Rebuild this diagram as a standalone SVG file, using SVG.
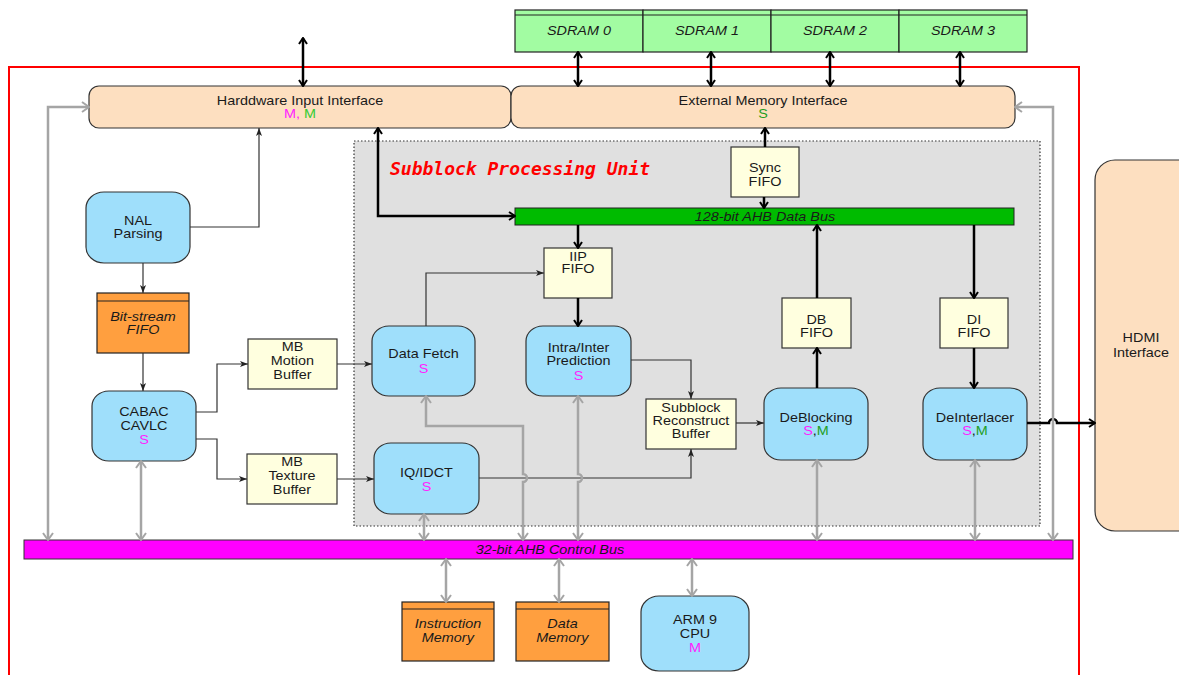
<svg xmlns="http://www.w3.org/2000/svg" width="1179" height="675" viewBox="0 0 1179 675">
  <style>
    .t { font-family: "Liberation Sans", Arial, sans-serif; font-size: 12px; fill: #1a1a1a; text-anchor: middle; transform-box: fill-box; transform-origin: center; transform: scaleX(1.2); }
    .it { font-style: italic; }
    .mg { fill: #ff22ff; }
    .gn { fill: #1e9e1e; }
    .gl { fill: #33cc33; }
    .title { font-family: "DejaVu Sans Mono", "Liberation Mono", monospace; font-size: 18px; font-weight: bold; font-style: italic; fill: #ff0000; }
    .blue { fill: #9fdffb; stroke: #333; stroke-width: 1.2; }
    .peach { fill: #fddfc0; stroke: #333; stroke-width: 1.2; }
    .yel { fill: #ffffdf; stroke: #333; stroke-width: 1.2; }
    .org { fill: #ff9f3f; stroke: #222; stroke-width: 1.2; }
    .sd { fill: #a2fca2; stroke: #222; stroke-width: 1.2; }
    .hd { fill: none; stroke: #222; stroke-width: 1.2; }
    .bk { fill: none; stroke: #000; stroke-width: 2.5; }
    .th { fill: none; stroke: #333; stroke-width: 1.2; }
    .gr { fill: none; stroke: #a5a5a5; stroke-width: 2.5; }
  </style>
  <defs>
    <marker id="ab" viewBox="0 0 10 10" refX="9" refY="5" markerWidth="10" markerHeight="10" markerUnits="userSpaceOnUse" orient="auto-start-reverse">
      <path d="M3,1 L9,5 L3,9" fill="none" stroke="#000" stroke-width="2"/>
    </marker>
    <marker id="ag" viewBox="0 0 12 12" refX="11" refY="6" markerWidth="12" markerHeight="12" markerUnits="userSpaceOnUse" orient="auto-start-reverse">
      <path d="M4,1 L11,6 L4,11" fill="none" stroke="#a5a5a5" stroke-width="2"/>
    </marker>
    <marker id="at" viewBox="0 0 8 8" refX="8" refY="4" markerWidth="8" markerHeight="8" markerUnits="userSpaceOnUse" orient="auto">
      <path d="M0,1 L8,4 L0,7 L2,4 z" fill="#222"/>
    </marker>
  </defs>

  <!-- chip boundary -->
  <path d="M9 675 V67 H1079 V675" fill="none" stroke="#ff0000" stroke-width="2"/>

  <!-- subblock processing unit region -->
  <g id="spu">
    <rect x="354" y="141" width="686" height="385" fill="#e0e0e0" stroke="#333" stroke-width="1.2" stroke-dasharray="1.5 2"/>
    <text class="title" x="390" y="175">Subblock Processing Unit</text>
  </g>

  <!-- external SDRAM banks -->
  <g id="sdram0"><rect class="sd" x="515" y="10" width="128" height="42"/><line class="hd" x1="515" y1="15" x2="643" y2="15"/><text class="t it" x="579" y="35.5">SDRAM 0</text></g>
  <g id="sdram1"><rect class="sd" x="643" y="10" width="128" height="42"/><line class="hd" x1="643" y1="15" x2="771" y2="15"/><text class="t it" x="707" y="35.5">SDRAM 1</text></g>
  <g id="sdram2"><rect class="sd" x="771" y="10" width="128" height="42"/><line class="hd" x1="771" y1="15" x2="899" y2="15"/><text class="t it" x="835" y="35.5">SDRAM 2</text></g>
  <g id="sdram3"><rect class="sd" x="899" y="10" width="128" height="42"/><line class="hd" x1="899" y1="15" x2="1027" y2="15"/><text class="t it" x="963" y="35.5">SDRAM 3</text></g>

  <!-- interfaces -->
  <g id="hw-input">
    <rect class="peach" x="89" y="86" width="422" height="42" rx="10"/>
    <text class="t" x="300" y="105">Harddware Input Interface</text>
    <text class="t" x="300" y="118.5"><tspan class="mg">M,</tspan><tspan class="gl"> M</tspan></text>
  </g>
  <g id="ext-mem">
    <rect class="peach" x="511" y="86" width="504" height="42" rx="10"/>
    <text class="t" x="763" y="105">External Memory Interface</text>
    <text class="t gn" x="763" y="118.5">S</text>
  </g>
  <g id="hdmi">
    <rect class="peach" x="1095" y="160" width="110" height="371" rx="20"/>
    <text class="t" x="1141" y="342.5">HDMI</text>
    <text class="t" x="1141" y="357">Interface</text>
  </g>

  <!-- buses -->
  <g id="data-bus">
    <rect x="515" y="208" width="499" height="17" fill="#00bb00" stroke="#222" stroke-width="1"/>
    <text class="t it" x="765" y="221">128-bit AHB Data Bus</text>
  </g>
  <g id="control-bus">
    <rect x="24" y="540" width="1049" height="19" fill="#ff00ff" stroke="#333" stroke-width="1"/>
    <text class="t it" x="550" y="554">32-bit AHB Control Bus</text>
  </g>

  <!-- front end -->
  <g id="nal">
    <rect class="blue" x="86" y="192" width="104" height="71" rx="18" ry="16"/>
    <text class="t" x="138" y="225.5">NAL</text>
    <text class="t" x="138" y="238">Parsing</text>
  </g>
  <g id="bitstream-fifo">
    <rect class="org" x="97" y="293" width="92" height="60"/>
    <line class="hd" x1="97" y1="301" x2="189" y2="301"/>
    <text class="t it" x="143" y="321">Bit-stream</text>
    <text class="t it" x="143" y="334.5">FIFO</text>
  </g>
  <g id="cabac">
    <rect class="blue" x="92" y="391" width="104" height="70" rx="17" ry="15"/>
    <text class="t" x="144" y="416.5">CABAC</text>
    <text class="t" x="144" y="430.5">CAVLC</text>
    <text class="t mg" x="144" y="444.5">S</text>
  </g>
  <g id="mb-motion">
    <rect class="yel" x="248" y="339" width="89" height="50"/>
    <text class="t" x="292.5" y="351.5">MB</text>
    <text class="t" x="292.5" y="365.5">Motion</text>
    <text class="t" x="292.5" y="379">Buffer</text>
  </g>
  <g id="mb-texture">
    <rect class="yel" x="247" y="454" width="90" height="50"/>
    <text class="t" x="292" y="466.5">MB</text>
    <text class="t" x="292" y="480.5">Texture</text>
    <text class="t" x="292" y="494">Buffer</text>
  </g>

  <!-- subblock pipeline -->
  <g id="sync-fifo">
    <rect class="yel" x="731" y="147" width="68" height="50"/>
    <text class="t" x="765" y="172">Sync</text>
    <text class="t" x="765" y="186.5">FIFO</text>
  </g>
  <g id="iip-fifo">
    <rect class="yel" x="544" y="248" width="68" height="50"/>
    <text class="t" x="578" y="261">IIP</text>
    <text class="t" x="578" y="273.5">FIFO</text>
  </g>
  <g id="data-fetch">
    <rect class="blue" x="372" y="326" width="103" height="70" rx="17" ry="15"/>
    <text class="t" x="423.5" y="358.5">Data Fetch</text>
    <text class="t mg" x="423.5" y="373.5">S</text>
  </g>
  <g id="prediction">
    <rect class="blue" x="526" y="326" width="105" height="70" rx="17" ry="15"/>
    <text class="t" x="578.5" y="352">Intra/Inter</text>
    <text class="t" x="578.5" y="365.5">Prediction</text>
    <text class="t mg" x="578.5" y="380">S</text>
  </g>
  <g id="iq-idct">
    <rect class="blue" x="374" y="443" width="105" height="71" rx="17" ry="15"/>
    <text class="t" x="426.5" y="477.5">IQ/IDCT</text>
    <text class="t mg" x="426.5" y="491.5">S</text>
  </g>
  <g id="reconstruct">
    <rect class="yel" x="646" y="399" width="90" height="50"/>
    <text class="t" x="691" y="412">Subblock</text>
    <text class="t" x="691" y="425.5">Reconstruct</text>
    <text class="t" x="691" y="438.5">Buffer</text>
  </g>
  <g id="db-fifo">
    <rect class="yel" x="782" y="298" width="69" height="50"/>
    <text class="t" x="816.5" y="324.5">DB</text>
    <text class="t" x="816.5" y="337.5">FIFO</text>
  </g>
  <g id="di-fifo">
    <rect class="yel" x="940" y="298" width="68" height="50"/>
    <text class="t" x="974" y="324.5">DI</text>
    <text class="t" x="974" y="337.5">FIFO</text>
  </g>
  <g id="deblocking">
    <rect class="blue" x="764" y="388" width="104" height="72" rx="17" ry="15"/>
    <text class="t" x="816" y="422.5">DeBlocking</text>
    <text class="t" x="816" y="435.5"><tspan class="mg">S</tspan><tspan>,</tspan><tspan class="gn">M</tspan></text>
  </g>
  <g id="deinterlacer">
    <rect class="blue" x="923" y="388" width="104" height="72" rx="17" ry="15"/>
    <text class="t" x="975" y="422.5">DeInterlacer</text>
    <text class="t" x="975" y="435.5"><tspan class="mg">S</tspan><tspan>,</tspan><tspan class="gn">M</tspan></text>
  </g>

  <!-- system side -->
  <g id="instr-mem">
    <rect class="org" x="402" y="602" width="92" height="59"/>
    <line class="hd" x1="402" y1="609" x2="494" y2="609"/>
    <text class="t it" x="448" y="628.5">Instruction</text>
    <text class="t it" x="448" y="642.5">Memory</text>
  </g>
  <g id="data-mem">
    <rect class="org" x="516" y="602" width="93" height="59"/>
    <line class="hd" x1="516" y1="609" x2="609" y2="609"/>
    <text class="t it" x="562.5" y="628.5">Data</text>
    <text class="t it" x="562.5" y="642.5">Memory</text>
  </g>
  <g id="arm9">
    <rect class="blue" x="641" y="596" width="108" height="75" rx="18" ry="16"/>
    <text class="t" x="695" y="624.5">ARM 9</text>
    <text class="t" x="695" y="638.5">CPU</text>
    <text class="t mg" x="695" y="652.5">M</text>
  </g>

  <g id="connectors">
    <!-- data path (black) -->
    <path class="bk" d="M303 38 V86" marker-start="url(#ab)" marker-end="url(#ab)"/>
    <path class="bk" d="M578 52 V86" marker-start="url(#ab)" marker-end="url(#ab)"/>
    <path class="bk" d="M711 52 V86" marker-start="url(#ab)" marker-end="url(#ab)"/>
    <path class="bk" d="M830 52 V86" marker-start="url(#ab)" marker-end="url(#ab)"/>
    <path class="bk" d="M960 52 V86" marker-start="url(#ab)" marker-end="url(#ab)"/>
    <path class="bk" d="M378 128 V216 H515" marker-start="url(#ab)" marker-end="url(#ab)"/>
    <path class="bk" d="M765 147 V128" marker-end="url(#ab)"/>
    <path class="bk" d="M764 197 V208" marker-end="url(#ab)"/>
    <path class="bk" d="M578 225 V248" marker-end="url(#ab)"/>
    <path class="bk" d="M578 298 V326" marker-end="url(#ab)"/>
    <path class="bk" d="M817 388 V348" marker-end="url(#ab)"/>
    <path class="bk" d="M817 298 V225" marker-end="url(#ab)"/>
    <path class="bk" d="M974 225 V298" marker-end="url(#ab)"/>
    <path class="bk" d="M974 348 V388" marker-end="url(#ab)"/>
    <path class="bk" d="M1027 423 H1049 A4 4 0 0 1 1057 423 H1095" marker-end="url(#ab)"/>

    <!-- control flow (thin) -->
    <path class="th" d="M190 227 H259 V128" marker-end="url(#at)"/>
    <path class="th" d="M143 263 V293" marker-end="url(#at)"/>
    <path class="th" d="M143 353 V391" marker-end="url(#at)"/>
    <path class="th" d="M196 412 H217 V364 H248" marker-end="url(#at)"/>
    <path class="th" d="M196 439 H217 V479 H247" marker-end="url(#at)"/>
    <path class="th" d="M337 364 H372" marker-end="url(#at)"/>
    <path class="th" d="M337 479 H374" marker-end="url(#at)"/>
    <path class="th" d="M426 326 V273 H544" marker-end="url(#at)"/>
    <path class="th" d="M631 360 H691 V399" marker-end="url(#at)"/>
    <path class="th" d="M479 478 H691 V449" marker-end="url(#at)"/>
    <path class="th" d="M736 423 H764" marker-end="url(#at)"/>

    <!-- register access (grey) -->
    <path class="gr" d="M48 540 V107 H89" marker-start="url(#ag)" marker-end="url(#ag)"/>
    <path class="gr" d="M1053 540 V107 H1015" marker-start="url(#ag)" marker-end="url(#ag)"/>
    <path class="gr" d="M141 461 V540" marker-start="url(#ag)" marker-end="url(#ag)"/>
    <path class="gr" d="M424 514 V540" marker-start="url(#ag)" marker-end="url(#ag)"/>
    <path class="gr" d="M426 396 V426 H523 V474 A4 4 0 0 1 523 482 V540" marker-start="url(#ag)" marker-end="url(#ag)"/>
    <path class="gr" d="M578 396 V474 A4 4 0 0 1 578 482 V540" marker-start="url(#ag)" marker-end="url(#ag)"/>
    <path class="gr" d="M817 460 V540" marker-start="url(#ag)" marker-end="url(#ag)"/>
    <path class="gr" d="M975 460 V540" marker-start="url(#ag)" marker-end="url(#ag)"/>
    <path class="gr" d="M446 559 V602" marker-start="url(#ag)" marker-end="url(#ag)"/>
    <path class="gr" d="M559 559 V602" marker-start="url(#ag)" marker-end="url(#ag)"/>
    <path class="gr" d="M692 559 V596" marker-start="url(#ag)" marker-end="url(#ag)"/>
  </g>
</svg>
